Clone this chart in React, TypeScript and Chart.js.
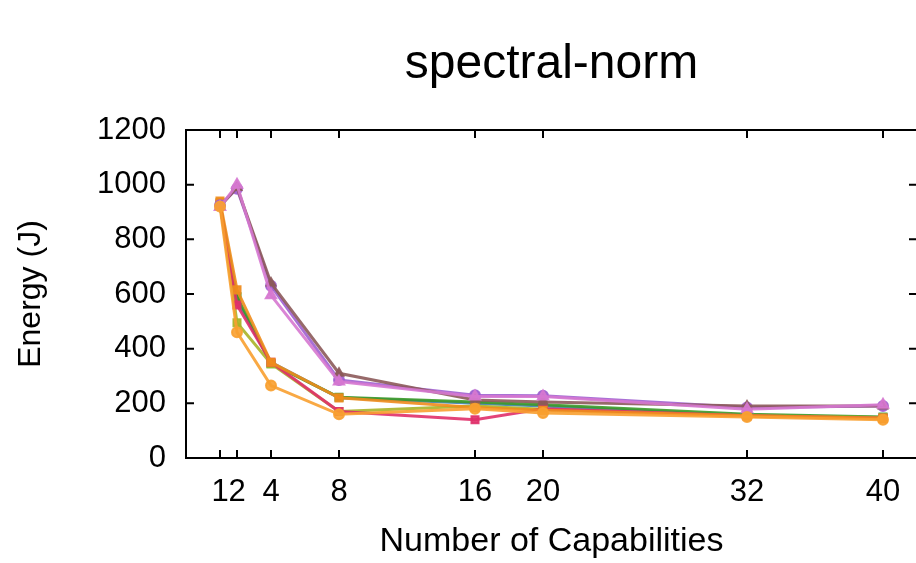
import React, { useEffect, useRef } from "react";
import { Chart, registerables } from "chart.js";

Chart.register(...registerables);

const capabilities = [1, 2, 4, 8, 16, 20, 32, 40];
const xTickValues = [1, 2, 4, 8, 16, 20, 32, 40];

const orangeCircle = [920, 460, 265, 160, 180, 165, 150, 140];
const brown = [920, 990, 640, 310, 212, 205, 190, 190];
const pink = [918, 1000, 595, 280, 225, 225, 178, 195];
const purple = [925, 985, 630, 285, 230, 228, 185, 190];
const red = [930, 560, 350, 170, 140, 180, 155, 145];
const darkOrange = [940, 615, 350, 220, 185, 175, 155, 145];
const olive = [935, 495, 345, 170, 190, 178, 155, 148];
const green = [925, 590, 345, 222, 205, 195, 160, 150];
const blue = [925, 575, 350, 220, 200, 190, 155, 148];

const seriesList = [
  { name: "s1", values: orangeCircle, color: "rgba(248,160,48,0.9)", style: "circle", r: 5 },
  { name: "s3", values: pink, color: "rgba(214,120,208,0.9)", style: "triangle", r: 6 },
  { name: "s2", values: brown, color: "rgba(140,90,90,0.9)", style: "triangle", r: 5 },
  { name: "s4", values: purple, color: "rgba(160,96,208,0.9)", style: "circle", r: 5 },
  { name: "s5", values: darkOrange, color: "rgba(240,140,28,0.9)", style: "rect", r: 5 },
  { name: "s6", values: red, color: "rgba(224,48,106,0.9)", style: "rect", r: 5 },
  { name: "s7", values: olive, color: "rgba(168,180,40,0.9)", style: "rect", r: 5 },
  { name: "s8", values: green, color: "rgba(60,154,40,0.9)", style: "rect", r: 5 },
  { name: "s9", values: blue, color: "rgba(64,128,176,0.9)", style: "crossRot", r: 5 },
];

const FONT = "'Liberation Sans', Arial, Helvetica, sans-serif";

const framePlugin = {
  id: "frame",
  afterDraw(chart: any) {
    const { ctx, chartArea } = chart;
    const { left, right, top, bottom } = chartArea;
    ctx.save();
    ctx.strokeStyle = "#000";
    ctx.lineWidth = 2;
    ctx.strokeRect(left, top, right - left, bottom - top);
    const tl = 8;
    const xs = chart.scales.x;
    const ys = chart.scales.y;
    ctx.beginPath();
    xs.ticks.forEach((t: any) => {
      const px = xs.getPixelForValue(t.value);
      ctx.moveTo(px, bottom);
      ctx.lineTo(px, bottom - tl);
      ctx.moveTo(px, top);
      ctx.lineTo(px, top + tl);
    });
    ys.ticks.forEach((t: any) => {
      const py = ys.getPixelForValue(t.value);
      ctx.moveTo(left, py);
      ctx.lineTo(left + tl, py);
      ctx.moveTo(right, py);
      ctx.lineTo(right - tl, py);
    });
    ctx.stroke();
    ctx.restore();
  },
};

export default function App() {
  const ref = useRef<HTMLCanvasElement | null>(null);
  useEffect(() => {
    if (!ref.current) return;
    const chart = new Chart(ref.current, {
      type: "line",
      data: {
        datasets: seriesList.map((s) => ({
          label: s.name,
          data: capabilities.map((c, i) => ({ x: c, y: s.values[i] })),
          borderColor: s.color,
          backgroundColor: s.color,
          pointBorderColor: s.color,
          pointBackgroundColor: s.color,
          pointStyle: s.style as any,
          pointRadius: s.r,
          borderWidth: 3,
          pointBorderWidth: 2,
          tension: 0,
        })),
      },
      plugins: [framePlugin],
      options: {
        responsive: false,
        animation: false,
        layout: { padding: { left: 0, right: 13, top: 0, bottom: 0 } },
        plugins: {
          legend: { display: false },
          tooltip: { enabled: false },
          title: { display: false },
        },
        scales: {
          x: {
            type: "linear",
            min: -1,
            max: 42,
            afterBuildTicks: (scale: any) => {
              scale.ticks = xTickValues.map((v) => ({ value: v }));
            },
            afterFit: (scale: any) => {
              scale.height = 105;
            },
            grid: { display: false, drawTicks: false },
            border: { display: false },
            ticks: {
              autoSkip: false,
              maxRotation: 0,
              color: "#000",
              padding: 16,
              font: { family: FONT, size: 31 },
            },
            title: {
              display: true,
              text: "Number of Capabilities",
              color: "#000",
              font: { family: FONT, size: 34 },
              padding: { top: 0, bottom: 1 },
            },
          },
          xTop: {
            type: "linear",
            position: "top",
            min: -1,
            max: 42,
            afterFit: (scale: any) => {
              scale.height = 130;
            },
            grid: { display: false, drawTicks: false },
            border: { display: false },
            ticks: { display: false },
            title: {
              display: true,
              text: "spectral-norm",
              color: "#000",
              font: { family: FONT, size: 48 },
              padding: { top: 36, bottom: 0 },
            },
          },
          y: {
            min: 0,
            max: 1200,
            afterFit: (scale: any) => {
              scale.width = 186;
            },
            grid: { display: false, drawTicks: false },
            border: { display: false },
            ticks: {
              stepSize: 200,
              color: "#000",
              padding: 20,
              font: { family: FONT, size: 31 },
              callback: (v: any) => String(v),
            },
            title: {
              display: true,
              text: "Energy (J)",
              color: "#000",
              font: { family: FONT, size: 32 },
              padding: { top: 12, bottom: 0 },
            },
          },
        },
      },
    });
    return () => chart.destroy();
  }, []);
  return (
    <div
      style={{
        position: "fixed",
        left: 0,
        top: 0,
        width: 916,
        height: 563,
        overflow: "hidden",
        background: "#fff",
      }}
    >
      <canvas ref={ref} width={930} height={563} style={{ display: "block" }} />
    </div>
  );
}
